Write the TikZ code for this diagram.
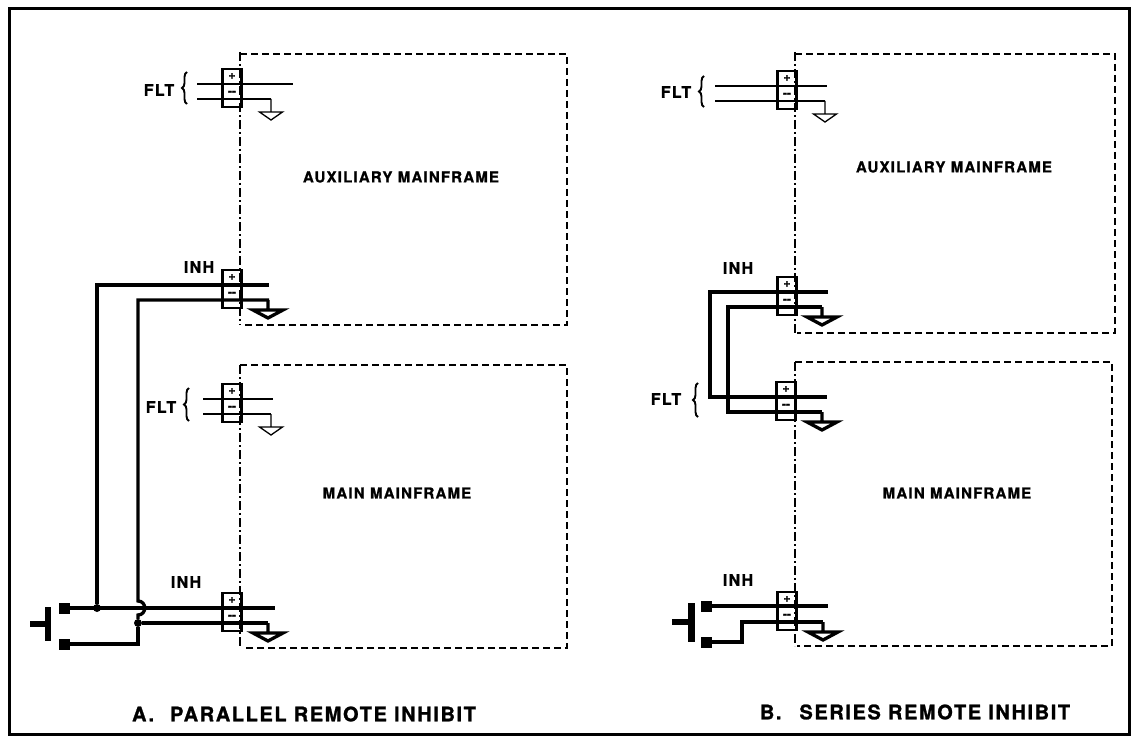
\documentclass[tikz,border=0pt]{standalone}
\usepackage{fontspec}
\setmainfont{TeX Gyre Heros}
\newfontfamily\lblfont[LetterSpace=8,FakeBold=1.2]{TeX Gyre Heros}
\newfontfamily\signfont[FakeBold=1.5]{TeX Gyre Heros}
\usetikzlibrary{positioning,decorations.pathreplacing}

\tikzset{
  pics/earth/.style={code={\draw (0,0) -- (0,13) (-11.5,13) -- (11.5,13) -- (0,21) -- cycle;}},
  pics/bigearth/.style={code={\draw (0,0) -- (0,10) (-15,10) -- (15,10) -- (0,18) -- cycle;}}
}

\begin{document}
\begin{tikzpicture}[x=1pt,y=-1pt,
    fine/.style={line width=1.3pt},
    wire/.style={line width=3.3pt},
    boxline/.style={line width=1.3pt, dash pattern=on 7pt off 4pt},
    side/.style={line width=1.3pt, dash pattern=on 9pt off 3pt on 2pt off 3pt},
    termbox/.style={draw, line width=2.8pt, minimum width=19pt, minimum height=38pt, inner sep=0pt},
    sign/.style={font=\signfont\bfseries\fontsize{12}{12}\selectfont, inner sep=0pt},
    lbl/.style={font=\lblfont\bfseries\fontsize{15}{15}\selectfont, inner sep=0pt},
    tag/.style={font=\lblfont\bfseries\fontsize{16}{16}\selectfont, inner sep=0pt},
    caption/.style={font=\lblfont\bfseries\fontsize{20}{20}\selectfont, inner sep=0pt},
    brace/.style={line width=1.9pt, decorate, decoration={brace, amplitude=5pt}},
    dot/.style={circle, fill, inner sep=0pt, minimum size=8pt},
    pad/.style={fill, minimum width=11pt, minimum height=11pt, inner sep=0pt}]
  \useasboundingbox (0,0) rectangle (1134,738);
  \draw[line width=3pt] (9,9) rectangle (1129,734);

  % A. parallel: mainframe outlines
  \draw[boxline] (240,54) -- (567,54) -- (567,325) -- (243,325);
  \draw[side] (240,52) -- (240,325);
  \draw[boxline] (240,365) -- (567,365) -- (567,648) -- (243,648);
  \draw[side] (240,365) -- (240,648);
  \node[lbl] (auxa) at (401,177) {AUXILIARY MAINFRAME};
  \node[lbl] (maina) at (397,493) {MAIN MAINFRAME};

  % A. FLT on auxiliary
  \node[termbox] (fltaa) at (232,88) {};
  \node[sign] (fltaap) at (232,76) {+};
  \node[sign] (fltaam) at (232,93) {--};
  \node[tag] (fltaal) at (159,90) {FLT};
  \draw[brace] (187,104) -- (187,72);
  \draw[fine] (197,84) -- (293,84);
  \draw[fine] (197,99) -- (271,99);
  \draw[fine] (271,99) pic {earth};

  % A. FLT on main
  \node[termbox] (fltma) at (232,403) {};
  \node[sign] (fltmap) at (232,391) {+};
  \node[sign] (fltmam) at (232,408) {--};
  \node[tag] (fltmal) at (161,407) {FLT};
  \draw[brace] (189,421) -- (189,388);
  \draw[fine] (203,399) -- (273,399);
  \draw[fine] (203,414) -- (271,414);
  \draw[fine] (271,414) pic {earth};

  % A. INH on auxiliary
  \node[termbox] (inhaa) at (232,289) {};
  \node[sign] (inhaap) at (232,277) {+};
  \node[sign] (inhaam) at (232,294) {--};
  \node[tag] (inhaal) at (199,267) {INH};

  % A. INH on main
  \node[termbox] (inhma) at (232,612) {};
  \node[sign] (inhmap) at (232,600) {+};
  \node[sign] (inhmam) at (232,617) {--};
  \node[tag] (inhmal) at (186,582) {INH};

  % A. switch and wiring
  \draw[line width=6.5pt] (48,607) -- (48,641);
  \draw[line width=6pt] (30,624) -- (48,624);
  \node[pad] (pa1) at (64.5,608) {};
  \node[pad] (pa2) at (64.5,644) {};
  \node[dot] (ja1) at (97,608) {};
  \node[dot] (ja2) at (138,623) {};
  \draw[wire] (ja1) -- (97,285) -- (269,285);
  \draw[wire] (269,300) -- (138,300) -- (138,601)
    .. controls (147,601) and (147,615) .. (138,615) -- (ja2);
  \draw[wire] (pa1) -- (275,608);
  \draw[wire] (ja2) -- (268,623);
  \draw[wire] (pa2) -- (138,644) -- (ja2);
  \draw[wire] (268,300) pic {bigearth};
  \draw[wire] (268,623) pic {bigearth};

  % B. series: mainframe outlines
  \draw[boxline] (795,54) -- (1115,54) -- (1115,333) -- (797,333);
  \draw[side] (795,52) -- (795,333);
  \draw[boxline] (795,362) -- (1112,362) -- (1112,646) -- (797,646);
  \draw[side] (795,362) -- (795,646);
  \node[lbl] (auxb) at (954,167) {AUXILIARY MAINFRAME};
  \node[lbl] (mainb) at (957,493) {MAIN MAINFRAME};

  % B. FLT on auxiliary
  \node[termbox] (fltab) at (787,90) {};
  \node[sign] (fltabp) at (787,78) {+};
  \node[sign] (fltabm) at (787,95) {--};
  \node[tag] (fltabl) at (676,92) {FLT};
  \draw[brace] (704,107) -- (704,76);
  \draw[fine] (715,86) -- (827,86);
  \draw[fine] (715,101) -- (825,101);
  \draw[fine] (825,101) pic {earth};

  % B. INH on auxiliary
  \node[termbox] (inhab) at (787,296) {};
  \node[sign] (inhabp) at (787,284) {+};
  \node[sign] (inhabm) at (787,301) {--};
  \node[tag] (inhabl) at (738,268) {INH};

  % B. FLT on main
  \node[termbox] (fltmb) at (786,401) {};
  \node[sign] (fltmbp) at (786,389) {+};
  \node[sign] (fltmbm) at (786,406) {--};
  \node[tag] (fltmbl) at (666,399) {FLT};
  \draw[brace] (698,417) -- (698,383);

  % B. INH on main
  \node[termbox] (inhmb) at (787,611) {};
  \node[sign] (inhmbp) at (787,599) {+};
  \node[sign] (inhmbm) at (787,616) {--};
  \node[tag] (inhmbl) at (738,580) {INH};

  % B. switch and wiring
  \draw[line width=7pt] (691,603) -- (691,642);
  \draw[line width=6pt] (672,622) -- (691,622);
  \node[pad] (pb1) at (706,606) {};
  \node[pad] (pb2) at (706,642) {};
  \draw[wire] (828,292) -- (710,292) -- (710,397) -- (827,397);
  \draw[wire] (822,307) -- (728,307) -- (728,412) -- (822,412);
  \draw[wire] (pb1) -- (828,606);
  \draw[wire] (pb2) -- (742,642) -- (742,622) -- (823,622);
  \draw[wire] (822,307) pic {bigearth};
  \draw[wire] (822,412) pic {bigearth};
  \draw[wire] (823,622) pic {bigearth};

  % captions
  \node[caption] (capa) at (304,714) {A.\hspace{16pt}PARALLEL REMOTE INHIBIT};
  \node[caption] (capb) at (915,712) {B.\hspace{18pt}SERIES REMOTE INHIBIT};
\end{tikzpicture}
\end{document}
